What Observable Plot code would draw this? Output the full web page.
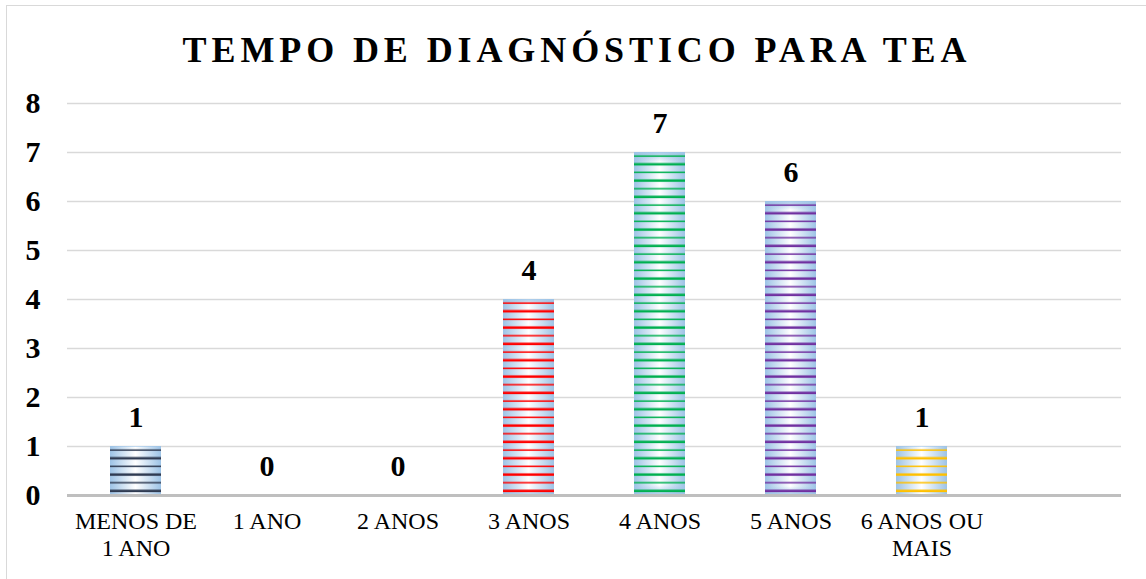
<!DOCTYPE html>
<html>
<head>
<meta charset="utf-8">
<script src="https://cdn.jsdelivr.net/npm/d3@7"></script>
<script src="https://cdn.jsdelivr.net/npm/@observablehq/plot@0.6"></script>
<style>
  html, body { margin: 0; padding: 0; background: #fff; overflow: hidden; }
  #wrap { position: relative; width: 1146px; height: 579px; overflow: hidden; }
  #frame { position: absolute; left: 6px; top: 5px; width: 1200px; height: 600px; border: 1px solid #d9d9d9; }
  #title { position: absolute; left: 0; top: 32px; width: 1146px; text-align: center;
           font-family: "Liberation Serif", "Times New Roman", serif; font-weight: bold;
           font-size: 36px; line-height: 1; letter-spacing: 4.9px; padding-left: 8px; box-sizing: border-box; color: #000; }
  #chart { position: absolute; left: 0; top: 0; }
</style>
</head>
<body>
<div id="wrap">
  <div id="frame"></div>
  <div id="chart"></div>
  <div id="title">TEMPO DE DIAGNÓSTICO PARA TEA</div>
</div>
<script>
const categories = ["MENOS DE 1 ANO", "1 ANO", "2 ANOS", "3 ANOS", "4 ANOS", "5 ANOS", "6 ANOS OU MAIS"];
const values = [1, 0, 0, 4, 7, 6, 1];
const tickLabels = ["MENOS DE\n1 ANO", "1 ANO", "2 ANOS", "3 ANOS", "4 ANOS", "5 ANOS", "6 ANOS OU\nMAIS"];
const yTicks = [0, 1, 2, 3, 4, 5, 6, 7, 8];
const stripeColors = ["#2f3b52", "#2f3b52", "#2f3b52", "#ff0000", "#00b050", "#7030a0", "#ffc000"];

const data = categories.map((c, i) => ({category: c, value: values[i], idx: i}));
const font = "'Liberation Serif', 'Times New Roman', serif";

const chart = Plot.plot({
  width: 1146,
  height: 579,
  marginLeft: 67,
  marginRight: 25,
  marginTop: 103,
  marginBottom: 84,
  style: {fontFamily: font, color: "#000", background: "transparent"},
  x: {domain: [...categories, ""], paddingInner: 0.61, paddingOuter: 0.305, label: null},
  y: {domain: [0, 8], label: null},
  color: {type: "identity"},
  marks: [
    Plot.gridY(yTicks, {stroke: "#d9d9d9", strokeOpacity: 1, strokeWidth: 1.5}),
    Plot.barY(data, {x: "category", y: "value", fill: "url(#barGrad)"}),
    Plot.barY(data, {x: "category", y: "value", fill: "url(#barGradV)"}),
    Plot.barY(data, {x: "category", y: "value", fill: d => `url(#stripe-${d.idx})`}),
    Plot.ruleY([0], {stroke: "#bfbfbf", strokeWidth: 3}),
    Plot.text(data, {x: "category", y: "value", text: d => String(d.value), dy: -29, lineAnchor: "middle",
                     fontSize: 30, fontWeight: "bold", fill: "#000"}),
    Plot.axisY(yTicks, {tickSize: 0, tickPadding: 27, fontSize: 30, fontWeight: "bold", label: null}),
    Plot.axisX({tickSize: 0, tickPadding: 15, fontSize: 24, lineHeight: 1.1, label: null,
                tickFormat: d => { const i = categories.indexOf(d); return i >= 0 ? tickLabels[i] : ""; }})
  ]
});

// Gradients and stripe patterns, positioned from the y scale
const ys = chart.scale("y");
const y0 = ys.apply(0);
const step = (ys.apply(0) - ys.apply(1)) / 6;
const svg = d3.select(chart);
const defs = svg.insert("defs", ":first-child");
const g = defs.append("linearGradient").attr("id", "barGrad").attr("x1", 0).attr("x2", 1).attr("y1", 0).attr("y2", 0);
g.append("stop").attr("offset", "0%").attr("stop-color", "#9dc3e6");
g.append("stop").attr("offset", "50%").attr("stop-color", "#ffffff");
g.append("stop").attr("offset", "100%").attr("stop-color", "#9dc3e6");
const gv = defs.append("linearGradient").attr("id", "barGradV").attr("x1", 0).attr("x2", 0).attr("y1", 0).attr("y2", 1);
gv.append("stop").attr("offset", "0%").attr("stop-color", "#9dc3e6").attr("stop-opacity", 0.9);
gv.append("stop").attr("offset", "3%").attr("stop-color", "#9dc3e6").attr("stop-opacity", 0);
gv.append("stop").attr("offset", "97%").attr("stop-color", "#9dc3e6").attr("stop-opacity", 0);
gv.append("stop").attr("offset", "100%").attr("stop-color", "#9dc3e6").attr("stop-opacity", 0.9);
stripeColors.forEach((c, i) => {
  const p = defs.append("pattern").attr("id", `stripe-${i}`).attr("patternUnits", "userSpaceOnUse")
    .attr("x", 0).attr("y", y0).attr("width", 40).attr("height", 2 * step);
  p.append("rect").attr("x", 0).attr("y", 0.5 * step - 0.75).attr("width", 40).attr("height", 1.5).attr("fill", c);
  p.append("rect").attr("x", 0).attr("y", 1.5 * step - 1.25).attr("width", 40).attr("height", 2.5).attr("fill", c);
});

document.getElementById("chart").appendChild(chart);
</script>
</body>
</html>
